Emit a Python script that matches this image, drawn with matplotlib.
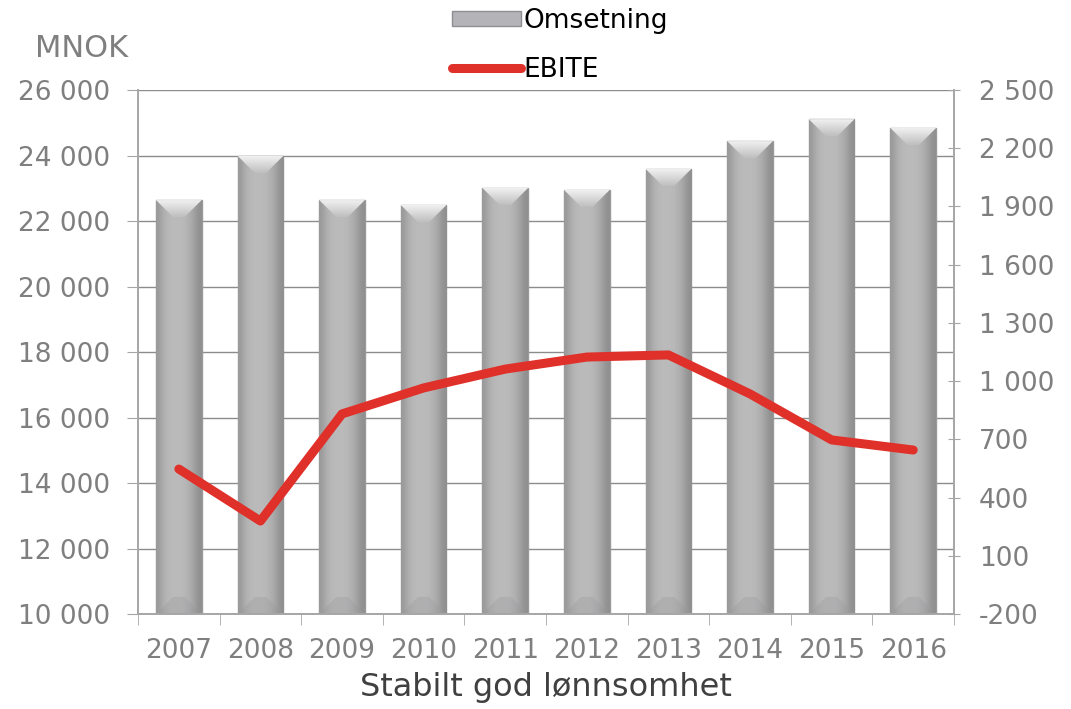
import numpy as np
import matplotlib.pyplot as plt
from matplotlib.patches import Rectangle, Polygon
from matplotlib.lines import Line2D
from matplotlib.ticker import FuncFormatter, FixedLocator

years = ['2007', '2008', '2009', '2010', '2011', '2012', '2013', '2014', '2015', '2016']
omsetning = [22640, 23990, 22640, 22490, 23010, 22950, 23590, 24440, 25110, 24840]
ebite = [547, 279, 831, 965, 1062, 1124, 1135, 934, 697, 645]

left_ticks = [10000, 12000, 14000, 16000, 18000, 20000, 22000, 24000, 26000]
right_ticks = [-200, 100, 400, 700, 1000, 1300, 1600, 1900, 2200, 2500]

GRAY_TXT = '#7f7f7f'
AX_COL = '#a6a6a6'
RED = '#e0302a'


def space_fmt(v, pos=None):
    s = f'{abs(int(v)):,}'.replace(',', ' ')
    return ('-' if v < 0 else '') + s


fig = plt.figure(figsize=(10.71, 7.09), dpi=100)
ax = fig.add_axes([0.1289, 0.134, 0.7619, 0.739])
ax2 = ax.twinx()

x = np.arange(len(years))
w = 0.56
ax.set_xlim(-0.5, len(years) - 0.5)
ax.set_ylim(10000, 26000)

# bars with horizontal shading and bevelled top/bottom
grad = np.array([0.60, 0.69, 0.72, 0.73, 0.73, 0.72, 0.69, 0.63, 0.56])
grad_img = np.tile(grad, (2, 1))
bev = 520
inset = 0.21
for xi, val in zip(x, omsetning):
    rect = Rectangle((xi - w / 2, 10000), w, val - 10000, facecolor='#b0afb4',
                     edgecolor='#9a999e', linewidth=1, zorder=2)
    ax.add_patch(rect)
    im = ax.imshow(grad_img, cmap='gray', vmin=0, vmax=1, aspect='auto',
                   extent=(xi - w / 2, xi + w / 2, 10000, val), zorder=2.1,
                   interpolation='bicubic')
    im.set_clip_path(rect)
    # top bevel: light wedge fading downward
    top = Polygon([(xi - w / 2, val), (xi + w / 2, val), (xi + w / 2 - inset, val - bev),
                   (xi - w / 2 + inset, val - bev)], closed=True,
                  facecolor='none', edgecolor='none', zorder=2.2)
    ax.add_patch(top)
    vg = np.linspace(0.95, 0.75, 20).reshape(-1, 1)
    im2 = ax.imshow(vg, cmap='gray', vmin=0, vmax=1, aspect='auto',
                    extent=(xi - w / 2, xi + w / 2, val - bev, val), zorder=2.2,
                    interpolation='bilinear')
    im2.set_clip_path(top)
    # bottom bevel: slightly darker wedge
    bot = Polygon([(xi - w / 2, 10000), (xi + w / 2, 10000), (xi + w / 2 - inset, 10000 + bev),
                   (xi - w / 2 + inset, 10000 + bev)], closed=True,
                  facecolor='#98979c', edgecolor='none', alpha=0.3, zorder=2.2)
    ax.add_patch(bot)

ax.set_xlim(-0.5, len(years) - 0.5)
ax.set_ylim(10000, 26000)
ax.yaxis.set_major_locator(FixedLocator(left_ticks))
ax.yaxis.set_major_formatter(FuncFormatter(space_fmt))
ax.yaxis.grid(True, color='#8c8c8c', linewidth=1)
ax.set_axisbelow(True)

ax.set_xticks(x)
ax.set_xticklabels(years)
ax.set_xticks(np.arange(-0.5, len(years)), minor=True)
ax.tick_params(axis='x', which='major', length=0, pad=17, labelsize=19, labelcolor=GRAY_TXT)
ax.tick_params(axis='x', which='minor', length=8, color=AX_COL, direction='out')
ax.tick_params(axis='y', length=8, color=AX_COL, labelsize=19, labelcolor=GRAY_TXT, pad=12)

ax2.plot(x, ebite, color=RED, lw=6.5, solid_capstyle='round', solid_joinstyle='round', zorder=5)
ax2.set_ylim(-200, 2500)
ax2.yaxis.set_major_locator(FixedLocator(right_ticks))
ax2.yaxis.set_major_formatter(FuncFormatter(space_fmt))
ax2.tick_params(axis='y', length=8, color=AX_COL, labelsize=19, labelcolor=GRAY_TXT,
                direction='inout', pad=14)

for a in (ax, ax2):
    a.spines['top'].set_visible(False)
    for s in ('left', 'right', 'bottom'):
        a.spines[s].set_color(AX_COL)
        a.spines[s].set_linewidth(1.2)

ax.set_xlabel('Stabilt god lønnsomhet', fontsize=23, color='#404040', labelpad=6)
fig.text(0.033, 0.932, 'MNOK', fontsize=22, color=GRAY_TXT, va='center')

handles = [Rectangle((0, 0), 1, 1, facecolor='#b4b3b8', edgecolor='#8f8e93'),
           Line2D([], [], color=RED, lw=6.5, solid_capstyle='round')]
fig.legend(handles, ['Omsetning', 'EBITE'], loc='upper center', bbox_to_anchor=(0.523, 1.022),
           frameon=False, fontsize=19, handlelength=2.6, handleheight=0.5,
           handletextpad=0.1, labelspacing=0.85)

fig.savefig('out.png', dpi=100)
